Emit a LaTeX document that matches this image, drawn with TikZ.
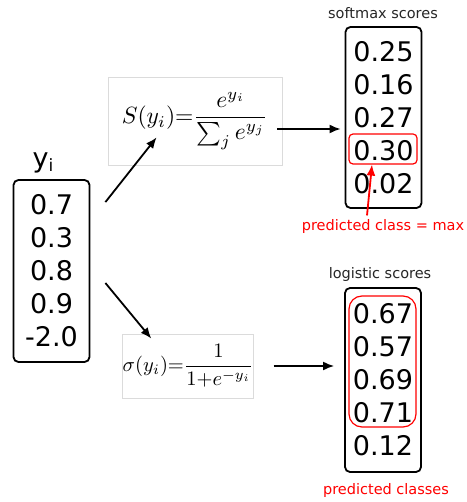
\documentclass[tikz,border=0pt]{standalone}
\usepackage[no-math]{fontspec}
\setmainfont{DejaVu Sans}
\usetikzlibrary{arrows.meta}

\begin{document}
\begin{tikzpicture}[>={Latex[length=11pt,width=9pt]},x=1pt,y=-1pt,
scorebox/.style={draw,rounded corners=5pt,line width=1.8pt,minimum width=76pt,align=center,font=\fontsize{27}{33}\selectfont},
formula/.style={draw=black!14,line width=0.8pt,inner sep=0pt},
hilite/.style={draw=red,line width=1.2pt,inner sep=0pt},
caption/.style={font=\fontsize{14.5}{16}\selectfont}]

\useasboundingbox (0,0) rectangle (466,502);

% input scores
\node[scorebox,minimum height=182pt]
(Y)
at (51.5,271)
{0.7\\0.3\\0.8\\0.9\\-2.0};

\node[font=\fontsize{27}{30}\selectfont]
(YL)
at (43,163)
{y\raisebox{-4pt}{\fontsize{17}{17}\selectfont i}};

% formulas
\node[formula,minimum width=174pt,minimum height=88pt]
(SF)
at (195,121)
{\scalebox{2.35}{$\displaystyle S(y_i){=}\frac{e^{y_i}}{\textstyle\sum_j e^{y_j}}$}};

\node[formula,minimum width=128pt,minimum height=64pt]
(LF)
at (188,366)
{\scalebox{2.05}{$\displaystyle\sigma(y_i){=}\frac{1}{1{+}e^{-y_i}}$}};

% output scores
\node[scorebox,minimum height=181pt]
(SM)
at (383.5,117.5)
{0.25\\0.16\\0.27\\0.30\\0.02};

\node[scorebox,minimum height=184pt]
(LG)
at (383,380)
{0.67\\0.57\\0.69\\0.71\\0.12};

\node[caption,text=black!85]
(SMT)
at (383,13)
{softmax scores};

\node[caption,text=black!85]
(LGT)
at (380,274)
{logistic scores};

% predictions
\node[hilite,rounded corners=4pt,minimum width=68pt,minimum height=30pt]
(MAX)
at (383,149)
{};

\node[hilite,rounded corners=13pt,minimum width=67pt,minimum height=131pt]
(CLS)
at (382.5,361.5)
{};

\node[caption,text=red]
(MAXT)
at (383,226)
{predicted class = max};

\node[caption,text=red]
(CLST)
at (386,490)
{predicted classes};

\draw[->,line width=1.8pt]
([shift={(15pt,-23pt)}]Y.north east)--([shift={(49pt,28pt)}]SF.south west);

\draw[->,line width=1.8pt]
([shift={(15pt,-12pt)}]Y.east)--([shift={(29pt,-5pt)}]LF.north west);

\draw[->,line width=1.8pt,shorten <=-1pt,shorten >=4pt]
([shift={(-4pt,-8pt)}]SF.east)--([yshift=-8pt]SF.east -| SM.west);

\draw[->,line width=1.8pt,shorten <=20pt,shorten >=10pt]
(LF.east)--(LF.east -| LG.west);

\draw[->,red,line width=1.8pt]
([xshift=-16pt]MAXT.north)--([xshift=-11pt]MAX.south);

\end{tikzpicture}
\end{document}
